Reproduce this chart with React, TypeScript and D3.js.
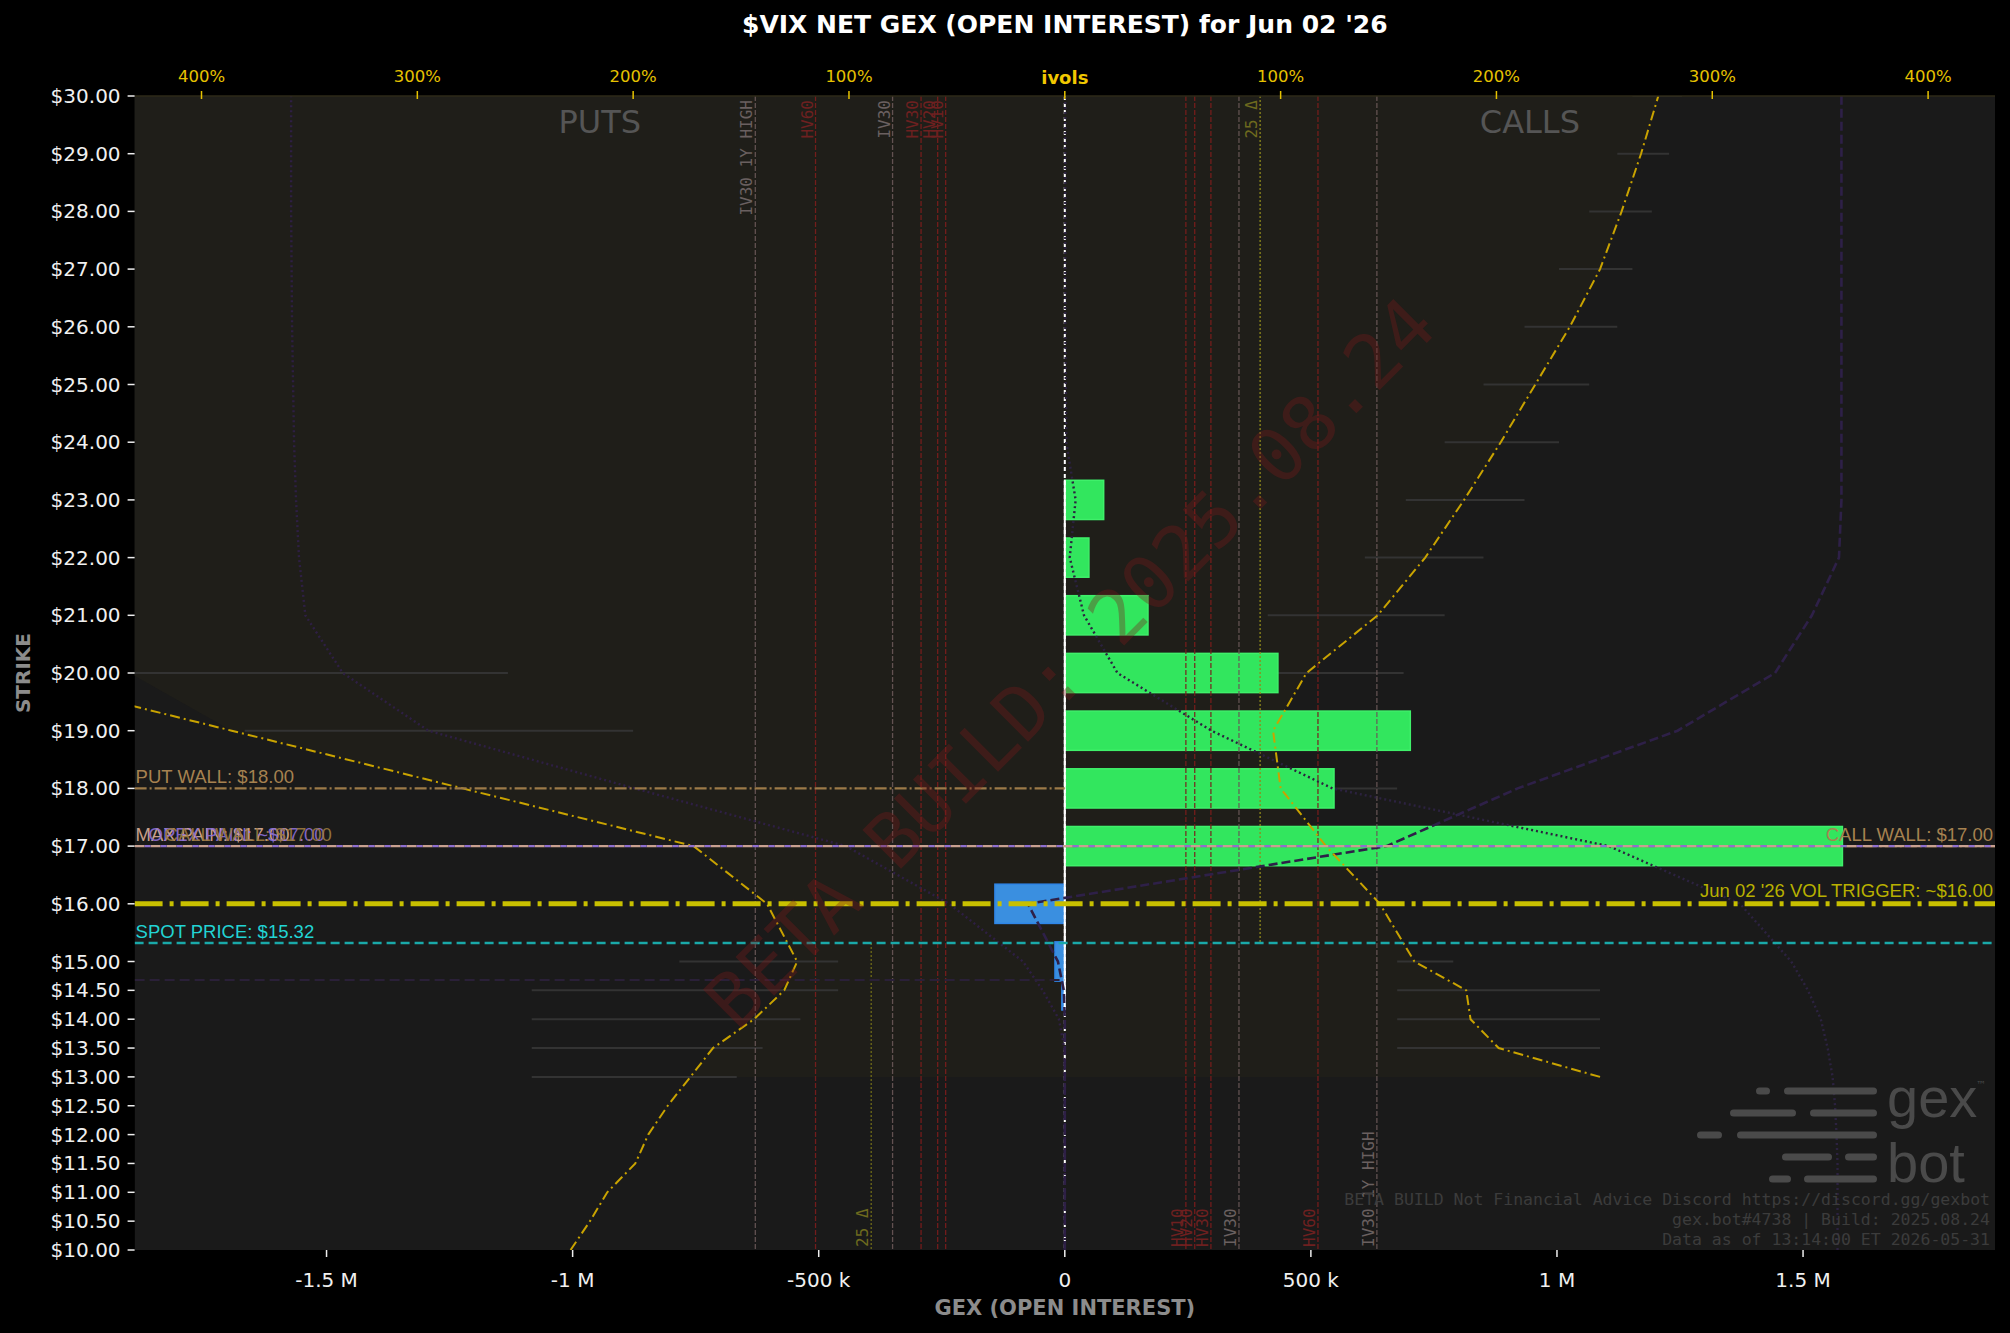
import * as d3 from 'd3'

// ---- data ----
const barStrikes = [14.5, 15, 16, 17, 18, 19, 20, 21, 22, 23]
const netGex = [-6e3, -20e3, -142e3, 1.58e6, 547e3, 702e3, 433e3, 169e3, 49e3, 79e3]

const curveStrikes = [10, 10.5, 11, 11.5, 12, 12.5, 13, 13.5, 14, 14.5, 15, 16, 17, 18, 19, 20, 21, 22, 23, 24, 25, 26, 27, 28, 29, 30]
const putIv = [229, 220, 212, 199, 193, 184, 173.5, 163, 144, 130, 124, 138, 172, 279, 386, 493, 600, 690, 770, 840, 900, 950, 1000, 1040, 1080, 1120]
const putProfile = [0, 0, 0, 0, 0, 0, 0, -1e3, -12e3, -45e3, -85e3, -235e3, -445e3, -874e3, -1.293e6, -1.467e6, -1.543e6, -1.556e6, -1.562e6, -1.566e6, -1.568e6, -1.57e6, -1.571e6, -1.572e6, -1.572e6, -1.572e6]
const callProfile = [1.57e6, 1.57e6, 1.57e6, 1.57e6, 1.568e6, 1.565e6, 1.56e6, 1.55e6, 1.536e6, 1.51e6, 1.476e6, 1.372e6, 1.105e6, 544e3, 298e3, 107e3, 39e3, 10e3, 22e3, 3e3, 2e3, 1e3, 1e3, 1e3, 1e3, 1e3]
const netProfile = [0, 0, 0, 0, 0, 0, 0, 0, 0, -2e3, -14e3, -75e3, 654e3, 920e3, 1.245e6, 1.443e6, 1.518e6, 1.573e6, 1.578e6, 1.578e6, 1.578e6, 1.578e6, 1.578e6, 1.578e6, 1.578e6, 1.578e6]

const callIvStrikes = [13, 13.5, 14, 14.5, 15, 16, 17, 18, 19, 20, 21, 22, 23, 24, 25, 26, 27, 28, 29, 30]
const callIv = [248, 201, 188, 186, 162, 146, 121, 100, 96.5, 112, 145, 167, 185, 202, 218, 234, 248, 258, 267, 275]

const callSpreadStrikes = [13.5, 14, 14.5, 15, 17, 18, 19, 20, 21, 22, 23, 24, 25, 26, 27, 28, 29, 30]
const callSpreadLo = [154, 154, 154, 154, 95, 60, 60, 60, 94, 139, 158, 176, 194, 213, 229, 243, 256, 263]
const callSpreadHi = [248, 248, 248, 180, 150, 154, 139, 157, 176, 194, 213, 229, 243, 256, 263, 272, 280, 286]
const putSpreadStrikes = [13, 13.5, 14, 14.5, 15, 19, 20]
const putSpreadLo = [152, 140, 122.5, 105, 105, 200, 258]
const putSpreadHi = [247, 247, 247, 247, 178.6, 380, 500]

const volNames = ['IV30 1Y HIGH', 'HV60', 'IV30', 'HV30', 'HV20', 'HV10']
const putVolLevels = [143.4, 115.5, 79.8, 66.6, 58.9, 55.2]
const callVolLevels = [144.6, 117.3, 80.7, 67.7, 60.2, 56.1]
const put25Delta = 89.7
const call25Delta = 90.5

const putWall = 18
const callWall = 17
const maxPain = 17
const volTrigger = 16
const spotPrice = 15.32
const faintLevel = 14.68

const yTicks = [10, 10.5, 11, 11.5, 12, 12.5, 13, 13.5, 14, 14.5, 15, 16, 17, 18, 19, 20, 21, 22, 23, 24, 25, 26, 27, 28, 29, 30]
const xTicks = [-1.5e6, -1e6, -5e5, 0, 5e5, 1e6, 1.5e6]
const xTickLabels = ['-1.5 M', '-1 M', '-500 k', '0', '500 k', '1 M', '1.5 M']
const ivTicks = [-400, -300, -200, -100, 0, 100, 200, 300, 400]

const W = 2010
const H = 1333
const L = 134.6
const R = 1995
const T = 96
const B = 1250

const LABEL = '"Liberation Sans", Arial, sans-serif'
const SANS = '"DejaVu Sans", sans-serif'
const MONO = '"DejaVu Sans Mono", monospace'

export default function App() {
  const x = d3.scaleLinear().domain([-1.89e6, 1.89e6]).range([L, R])
  const iv = d3.scaleLinear().domain([-431, 431]).range([L, R])
  const y = d3.scaleLinear().domain([10, 30]).range([B, T])
  const cx = x(0)
  const barH = y(0) - y(0.68)

  const line = d3.line<[number, number]>().x((d) => d[0]).y((d) => d[1])

  // fill between put-side and call-side IV curves (strikes 13..30)
  const tintRight = callIvStrikes.map((s, i) => [iv(callIv[i]), y(s)] as [number, number])
  const tintLeft = curveStrikes
    .map((s, i) => [Math.max(L - 5, iv(-putIv[i])), y(s)] as [number, number])
    .filter((_, i) => curveStrikes[i] >= 13)
    .reverse()
  const tintPath = line([...tintRight, ...tintLeft]) + 'Z'

  const putCurve = line(curveStrikes.map((s, i) => [iv(-putIv[i]), y(s)]))
  const callCurve = line(callIvStrikes.map((s, i) => [iv(callIv[i]), y(s)]))
  const putProf = line(curveStrikes.map((s, i) => [x(putProfile[i]), y(s)]))
  const callProf = line(curveStrikes.map((s, i) => [x(callProfile[i]), y(s)]))
  const netProf = line(curveStrikes.map((s, i) => [x(netProfile[i]), y(s)]))

  const logoRows = [
    [[1756, 1770], [1784, 1877]],
    [[1730, 1796], [1810, 1877]],
    [[1697, 1722], [1737, 1877]],
    [[1782, 1832], [1845, 1877]],
    [[1769, 1791], [1804, 1877]],
  ]
  const logoY = [1091, 1113, 1135, 1157, 1179]

  const volColor = (n: string) => (n.startsWith('HV') ? '#7d1d1d' : '#6a5858')
  const volText = (n: string) => (n.startsWith('HV') ? '#6e2020' : '#6a6060')

  return (
    <svg width={W} height={H} style={{ position: 'absolute', left: 0, top: 0, background: '#000' }}>
      <defs>
        <clipPath id="plot">
          <rect x={L} y={T} width={R - L} height={B - T} />
        </clipPath>
      </defs>
      <rect x={0} y={0} width={W} height={H} fill="#000" />
      <text x={cx} y={33} textAnchor="middle" fill="#fff" fontFamily={SANS} fontWeight="bold" fontSize={25}>
        $VIX NET GEX (OPEN INTEREST) for Jun 02 '26
      </text>

      <g clipPath="url(#plot)">
        <rect x={L} y={T} width={R - L} height={B - T} fill="#1a1a1a" />
        <path d={tintPath} fill="#1f1e19" />

        <text x={(L + cx) / 2} y={133} textAnchor="middle" fill="#555" fontFamily={SANS} fontSize={32}>PUTS</text>
        <text x={(cx + R) / 2} y={133} textAnchor="middle" fill="#555" fontFamily={SANS} fontSize={32}>CALLS</text>

        {/* IV bid/ask spreads */}
        {callSpreadStrikes.map((s, i) => (
          <line key={'cs' + s} x1={iv(callSpreadLo[i])} x2={iv(callSpreadHi[i])} y1={y(s)} y2={y(s)} stroke="#333" strokeWidth={2} />
        ))}
        {putSpreadStrikes.map((s, i) => (
          <line key={'ps' + s} x1={iv(-putSpreadLo[i])} x2={iv(-putSpreadHi[i])} y1={y(s)} y2={y(s)} stroke="#333" strokeWidth={2} />
        ))}

        {/* net gex bars */}
        {barStrikes.map((s, i) => {
          const v = netGex[i]
          const x0 = Math.min(x(0), x(v))
          const w = Math.abs(x(v) - x(0))
          return (
            <rect key={s} x={x0} y={y(s) - barH / 2} width={w} height={barH}
              fill={v >= 0 ? '#32e65e' : '#3a8fe0'} stroke={v >= 0 ? '#3ff06a' : '#2f86e8'} strokeWidth={1.5} />
          )
        })}

        {/* vol reference lines */}
        {volNames.map((n, i) => (
          <g key={'pv' + n}>
            <line x1={iv(-putVolLevels[i])} x2={iv(-putVolLevels[i])} y1={T} y2={B} stroke={volColor(n)} strokeWidth={1.3} strokeDasharray="5 2" opacity={0.9} />
            <text transform={`translate(${iv(-putVolLevels[i]) - 3},${T + 4}) rotate(-90)`} textAnchor="end"
              fill={volText(n)} fontFamily={MONO} fontSize={16}>{n}</text>
          </g>
        ))}
        {volNames.map((n, i) => (
          <g key={'cv' + n}>
            <line x1={iv(callVolLevels[i])} x2={iv(callVolLevels[i])} y1={T} y2={B} stroke={volColor(n)} strokeWidth={1.3} strokeDasharray="5 2" opacity={0.9} />
            <text transform={`translate(${iv(callVolLevels[i]) - 3},${B - 3}) rotate(-90)`} textAnchor="start"
              fill={volText(n)} fontFamily={MONO} fontSize={16}>{n}</text>
          </g>
        ))}
        <line x1={iv(call25Delta)} x2={iv(call25Delta)} y1={T} y2={y(spotPrice)} stroke="#8f8a1c" strokeWidth={1.3} strokeDasharray="2 2" />
        <text transform={`translate(${iv(call25Delta) - 3},${T + 4}) rotate(-90)`} textAnchor="end" fill="#6e6a1e" fontFamily={MONO} fontSize={16}>25 Δ</text>
        <line x1={iv(-put25Delta)} x2={iv(-put25Delta)} y1={y(spotPrice)} y2={B} stroke="#6e6a18" strokeWidth={1.3} strokeDasharray="2 2" />
        <text transform={`translate(${iv(-put25Delta) - 3},${B - 3}) rotate(-90)`} textAnchor="start" fill="#6e6a1e" fontFamily={MONO} fontSize={16}>25 Δ</text>

        {/* center lines */}
        <line x1={cx} x2={cx} y1={T} y2={B} stroke="#fff" strokeWidth={2} strokeDasharray="4 3" />
        <line x1={cx} x2={cx} y1={y(23.35)} y2={y(14.16)} stroke="#fff" strokeWidth={2} />

        {/* profiles */}
        <path d={netProf ?? ''} fill="none" stroke="#2e2048" strokeWidth={2.6} strokeDasharray="9 4" />
        <path d={putProf ?? ''} fill="none" stroke="#2e1f44" strokeWidth={2.4} strokeDasharray="2 3" />
        <path d={callProf ?? ''} fill="none" stroke="#2c2240" strokeWidth={2.4} strokeDasharray="2 3" />

        {/* IV curves */}
        <path d={putCurve ?? ''} fill="none" stroke="#c9a300" strokeWidth={2} strokeDasharray="10 4 2 4" />
        <path d={callCurve ?? ''} fill="none" stroke="#c9a300" strokeWidth={2} strokeDasharray="10 4 2 4" />

        {/* levels */}
        <line x1={L} x2={cx} y1={y(faintLevel)} y2={y(faintLevel)} stroke="#2a2038" strokeWidth={2} strokeDasharray="10 5" />
        <line x1={L} x2={cx} y1={y(putWall)} y2={y(putWall)} stroke="#9c7a48" strokeWidth={2.2} strokeDasharray="12 3 2 3" />
        <line x1={cx} x2={R} y1={y(callWall)} y2={y(callWall)} stroke="#9c7a48" strokeWidth={2.2} strokeDasharray="12 3 2 3" />
        <line x1={L} x2={R} y1={y(maxPain)} y2={y(maxPain)} stroke="#c8a090" strokeWidth={2.4} strokeDasharray="10 6" />
        <line x1={L} x2={R} y1={y(maxPain)} y2={y(maxPain)} stroke="#8e6ed0" strokeWidth={2.4} strokeDasharray="6 10" strokeDashoffset={-10} />
        <line x1={L} x2={R} y1={y(volTrigger)} y2={y(volTrigger)} stroke="#c8c000" strokeWidth={5} strokeDasharray="28 7 4 7" />
        <line x1={L} x2={R} y1={y(spotPrice)} y2={y(spotPrice)} stroke="#1aa9a9" strokeWidth={2.5} strokeDasharray="9 5" />

        <g fontFamily={LABEL} fontSize={18.5}>
          <text x={L + 1} y={y(putWall) - 5} fill="#a68250">PUT WALL: ${putWall.toFixed(2)}</text>
          <text x={L + 1} y={y(maxPain) - 5} fill="#c8a08a">MAX PAIN: ${maxPain.toFixed(2)}</text>
          <text x={L + 14} y={y(maxPain) - 5} fill="#8c70d8" opacity={0.9}>OPEX PAIN: ~${maxPain.toFixed(2)}</text>
          <text x={L + 30} y={y(maxPain) - 5} fill="#9c7a40" opacity={0.9}>CALL WALL: ${callWall.toFixed(2)}</text>
          <text x={R - 2} y={y(callWall) - 5} textAnchor="end" fill="#a68250">CALL WALL: ${callWall.toFixed(2)}</text>
          <text x={R - 2} y={y(volTrigger) - 7} textAnchor="end" fill="#b8b000">Jun 02 '26 VOL TRIGGER: ~${volTrigger.toFixed(2)}</text>
          <text x={L + 1} y={y(spotPrice) - 5} fill="#22d4d4">SPOT PRICE: ${spotPrice.toFixed(2)}</text>
        </g>

        {/* watermark */}
        <text transform="translate(1070,663) rotate(-45)" textAnchor="middle" dominantBaseline="central"
          fill="#7a1a1a" opacity={0.35} fontFamily={MONO} fontSize={75}>BETA BUILD: 2025.08.24</text>

        {/* logo */}
        {logoRows.map((row, r) =>
          row.map((seg, k) => (
            <line key={`lg${r}-${k}`} x1={seg[0] + 3.5} x2={seg[1] - 3.5} y1={logoY[r]} y2={logoY[r]}
              stroke="#4a4a4a" strokeWidth={7} strokeLinecap="round" />
          ))
        )}
        <text x={1887} y={1117} fill="#4a4a4a" fontFamily={LABEL} fontSize={56}>gex</text>
        <text x={1887} y={1182} fill="#4a4a4a" fontFamily={LABEL} fontSize={56}>bot</text>
        <text x={1976} y={1088} fill="#4a4a4a" fontFamily={SANS} fontSize={10}>™</text>
        <g fontFamily={MONO} fontSize={16.5} fill="#3c3c3c" textAnchor="end">
          <text x={1990} y={1205}>BETA BUILD Not Financial Advice Discord https://discord.gg/gexbot</text>
          <text x={1990} y={1225}>gex.bot#4738 | Build: 2025.08.24</text>
          <text x={1990} y={1245}>Data as of 13:14:00 ET 2026-05-31</text>
        </g>
      </g>

      <line x1={L} x2={R} y1={T} y2={T} stroke="#2e2a18" strokeWidth={1.5} />

      {/* y axis */}
      {yTicks.map((t) => (
        <g key={'y' + t}>
          <line x1={L - 7} x2={L} y1={y(t)} y2={y(t)} stroke="#eee" strokeWidth={1.5} />
          <text x={L - 14} y={y(t)} textAnchor="end" dominantBaseline="central" fill="#f0f0f0" fontFamily={SANS} fontSize={20}>
            ${t.toFixed(2)}
          </text>
        </g>
      ))}
      <text transform={`translate(23,${(T + B) / 2}) rotate(-90)`} textAnchor="middle" dominantBaseline="central"
        fill="#8c8c8c" fontFamily={SANS} fontWeight="bold" fontSize={20}>STRIKE</text>

      {/* x axis */}
      {xTicks.map((t, i) => (
        <g key={'x' + t}>
          <line x1={x(t)} x2={x(t)} y1={B} y2={B + 7} stroke="#eee" strokeWidth={1.5} />
          <text x={x(t)} y={B + 37} textAnchor="middle" fill="#f0f0f0" fontFamily={SANS} fontSize={20}>{xTickLabels[i]}</text>
        </g>
      ))}
      <text x={cx} y={1315} textAnchor="middle" fill="#8c8c8c" fontFamily={SANS} fontWeight="bold" fontSize={21}>GEX (OPEN INTEREST)</text>

      {/* top ivol axis */}
      {ivTicks.map((t) => (
        <g key={'iv' + t}>
          <line x1={iv(t)} x2={iv(t)} y1={T - 5} y2={T + 3} stroke="#e6c200" strokeWidth={1.5} />
          {t === 0 ? (
            <text x={iv(t)} y={84} textAnchor="middle" fill="#f2c800" fontFamily={SANS} fontWeight="bold" fontSize={18}>ivols</text>
          ) : (
            <text x={iv(t)} y={82} textAnchor="middle" fill="#e6c200" fontFamily={SANS} fontSize={16.5}>{Math.abs(t)}%</text>
          )}
        </g>
      ))}
    </svg>
  )
}
